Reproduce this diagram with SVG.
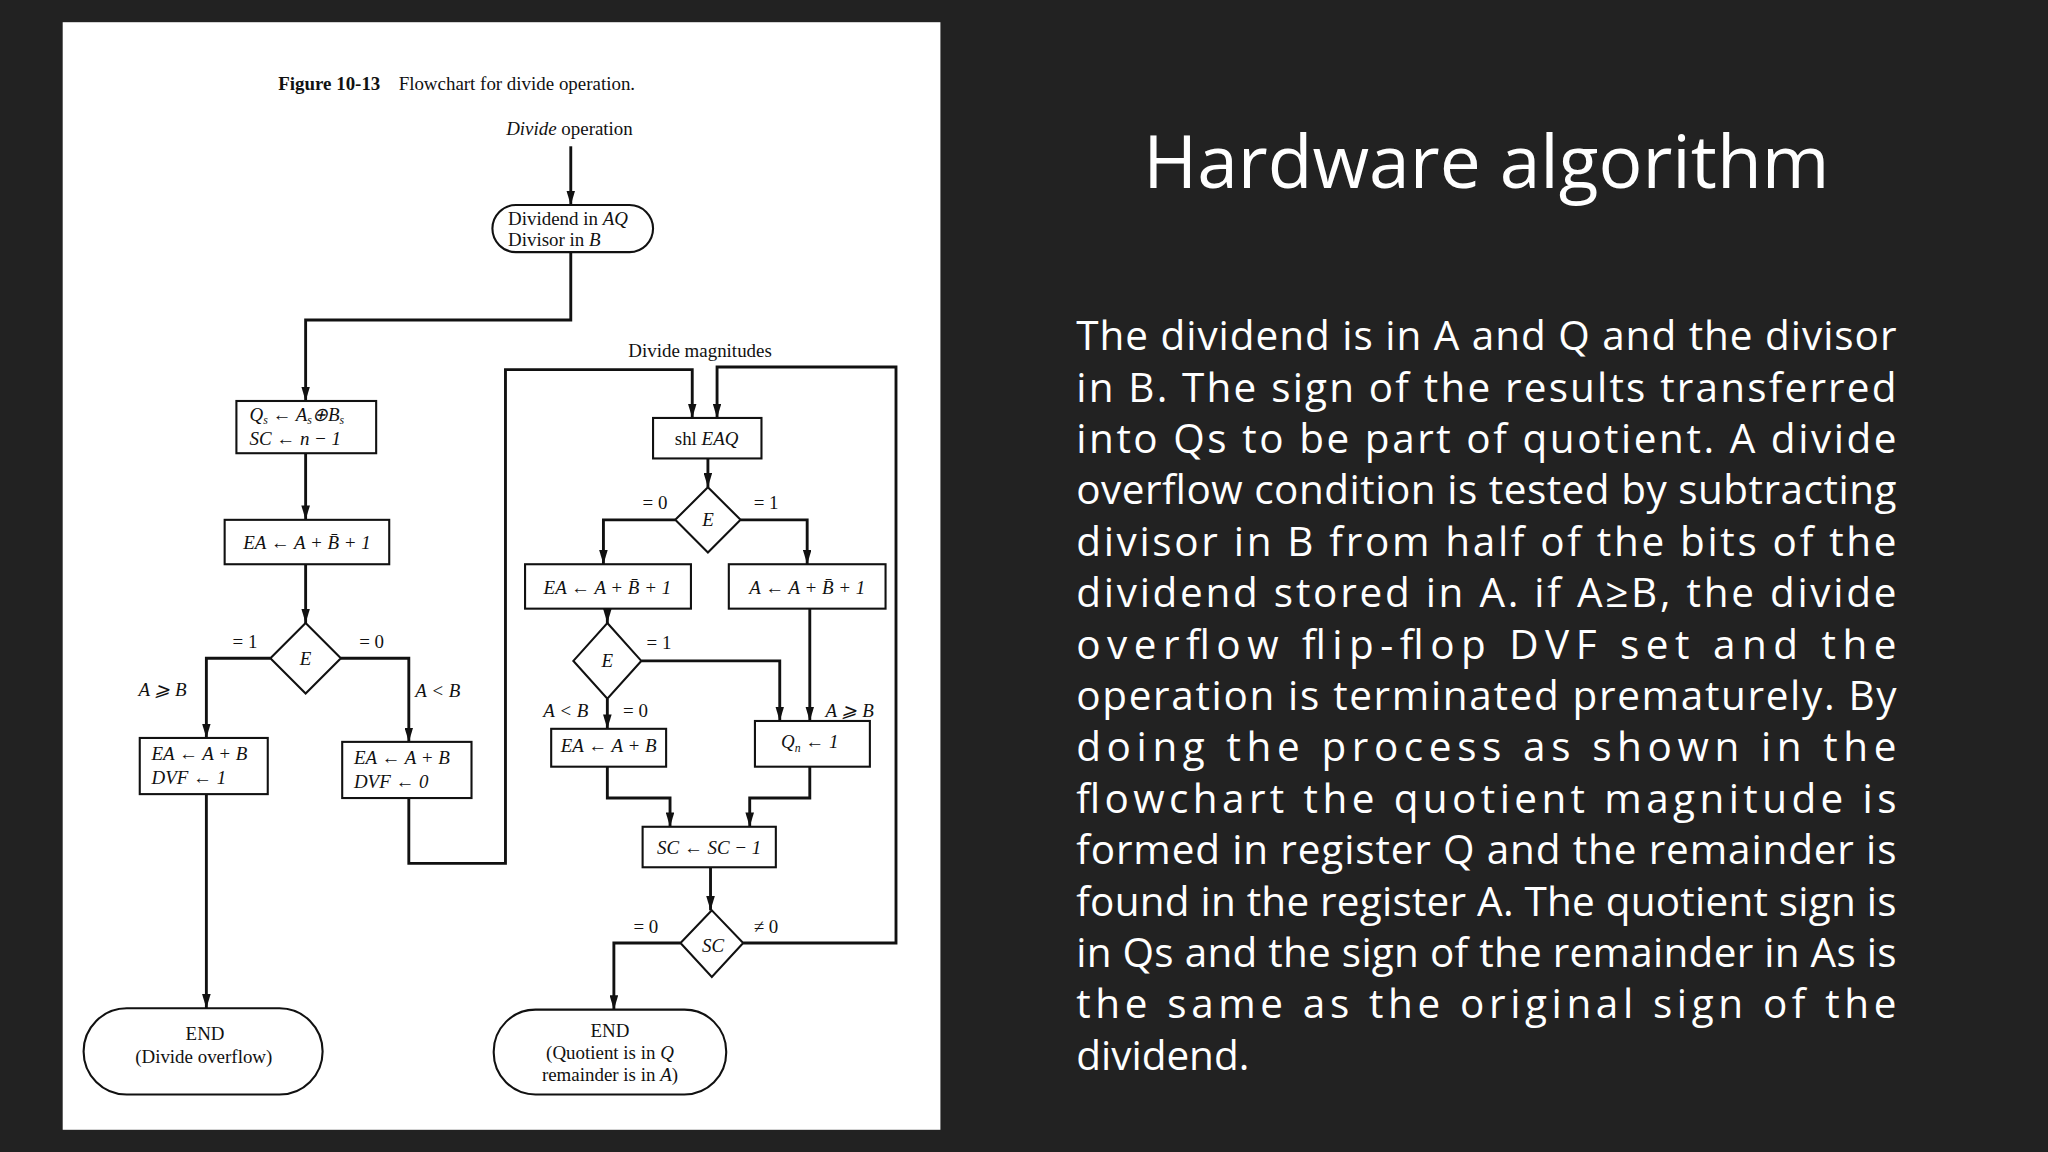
<svg xmlns="http://www.w3.org/2000/svg" width="2048" height="1152" viewBox="0 0 2048 1152">
<style>
.f{font-family:"Liberation Serif",serif;font-size:14.5px;fill:#111}
.i{font-style:italic}
.c{text-anchor:middle}
.b{fill:#fff;stroke:#111;stroke-width:1.6}
.ln{fill:none;stroke:#111;stroke-width:2.2}
.p{font-family:"Open Sans",Roboto,sans-serif;font-size:31px;fill:#fff}
</style>
<defs>
<marker id="a" viewBox="0 0 10 6" refX="10" refY="3" markerWidth="11" markerHeight="6.6" markerUnits="userSpaceOnUse" orient="auto"><path d="M0,0 L10,3 L0,6 z" fill="#111"/></marker>
</defs>
<rect width="2048" height="1152" fill="#222"/>
<g transform="scale(1.30612)">
<rect x="48" y="17" width="672" height="848" fill="#fff"/>
<text class="f" x="213" y="69" font-size="16.5"><tspan font-weight="bold">Figure 10-13</tspan><tspan dx="14">Flowchart for divide operation.</tspan></text>
<text class="f c" x="436" y="103" font-size="15.5"><tspan class="i">Divide</tspan> operation</text>
<g id="connectors" class="ln">
<path d="M437,112 V157" marker-end="url(#a)"/>
<path d="M437,193 V245 H234 V307" marker-end="url(#a)"/>
<path d="M234,347 V398" marker-end="url(#a)"/>
<path d="M234,432 V477" marker-end="url(#a)"/>
<path d="M207,504 H158 V565" marker-end="url(#a)"/>
<path d="M261,504 H313 V568" marker-end="url(#a)"/>
<path d="M158,608 V772" marker-end="url(#a)"/>
<path d="M313,611 V661 H387 V283 H530 V320" marker-end="url(#a)"/>
<path d="M569,722 H686 V281 H549 V320" marker-end="url(#a)"/>
<path d="M542,351 V373" marker-end="url(#a)"/>
<path d="M517,398 H462 V432" marker-end="url(#a)"/>
<path d="M567,398 H618 V432" marker-end="url(#a)"/>
<path d="M465,466 V477" marker-end="url(#a)"/>
<path d="M491,506 H597 V552" marker-end="url(#a)"/>
<path d="M620,466 V552" marker-end="url(#a)"/>
<path d="M465,535 V558" marker-end="url(#a)"/>
<path d="M465,587 V611 H513 V633" marker-end="url(#a)"/>
<path d="M620,587 V611 H574 V633" marker-end="url(#a)"/>
<path d="M544,664 V697" marker-end="url(#a)"/>
<path d="M521,722 H470 V773" marker-end="url(#a)"/>
</g>
<g id="start"><rect class="b" x="377" y="157" width="123" height="36" rx="18"/><text class="f" x="389" y="172">Dividend in <tspan class="i">AQ</tspan></text><text class="f" x="389" y="188">Divisor in <tspan class="i">B</tspan></text></g>
<g id="qs"><rect class="b" x="181" y="307" width="107" height="40"/><text class="f i" x="191" y="322">Q<tspan font-size="9" dy="3">s</tspan><tspan dy="-3"> ← A</tspan><tspan font-size="9" dy="3">s</tspan><tspan dy="-3">⊕B</tspan><tspan font-size="9" dy="3">s</tspan></text><text class="f i" x="191" y="341">SC ← n − 1</text></g>
<g id="sub1"><rect class="b" x="172" y="398" width="126" height="34"/><text class="f i c" x="235" y="420">EA ← A + B̄ + 1</text></g>
<g id="e1"><path class="b" d="M234,477 L261,504 L234,531 L207,504 z"/><text class="f i c" x="234" y="509">E</text></g>
<text class="f" x="178" y="496">= 1</text><text class="f" x="275" y="496">= 0</text>
<text class="f i" x="106" y="533">A ⩾ B</text><text class="f i" x="318" y="534">A &lt; B</text>
<g id="ovf"><rect class="b" x="107" y="565" width="98" height="43"/><text class="f i" x="116" y="582">EA ← A + B</text><text class="f i" x="116" y="600">DVF ← 1</text></g>
<g id="nov"><rect class="b" x="262" y="568" width="99" height="43"/><text class="f i" x="271" y="585">EA ← A + B</text><text class="f i" x="271" y="603">DVF ← 0</text></g>
<g id="end1"><rect class="b" x="64" y="772" width="183" height="66" rx="33"/><text class="f c" x="157" y="796">END</text><text class="f c" x="156" y="814">(Divide overflow)</text></g>
<text class="f c" x="536" y="273">Divide magnitudes</text>
<g id="shl"><rect class="b" x="500" y="320" width="83" height="31"/><text class="f c" x="541" y="341">shl <tspan class="i">EAQ</tspan></text></g>
<g id="e2"><path class="b" d="M542,373 L567,398 L542,423 L517,398 z"/><text class="f i c" x="542" y="403">E</text></g>
<text class="f" x="492" y="390">= 0</text><text class="f" x="577" y="390">= 1</text>
<g id="sub2"><rect class="b" x="402" y="432" width="127" height="34"/><text class="f i c" x="465" y="455">EA ← A + B̄ + 1</text></g>
<g id="sub3"><rect class="b" x="558" y="432" width="120" height="34"/><text class="f i c" x="618" y="455">A ← A + B̄ + 1</text></g>
<g id="e3"><path class="b" d="M465,477 L491,506 L465,535 L439,506 z"/><text class="f i c" x="465" y="511">E</text></g>
<text class="f" x="495" y="497">= 1</text>
<text class="f i" x="416" y="549">A &lt; B</text><text class="f" x="477" y="549">= 0</text><text class="f i" x="632" y="549">A ⩾ B</text>
<g id="rest"><rect class="b" x="422" y="558" width="88" height="29"/><text class="f i c" x="466" y="576">EA ← A + B</text></g>
<g id="qn"><rect class="b" x="578" y="552" width="88" height="35"/><text class="f i c" x="620" y="573">Q<tspan font-size="9" dy="3">n</tspan><tspan dy="-3"> ← 1</tspan></text></g>
<g id="dec"><rect class="b" x="492" y="633" width="102" height="31"/><text class="f i c" x="543" y="654">SC ← SC − 1</text></g>
<g id="sc"><path class="b" d="M545,697 L569,722 L545,748 L521,722 z"/><text class="f i c" x="546" y="729">SC</text></g>
<text class="f" x="485" y="714">= 0</text><text class="f" x="577" y="714">≠ 0</text>
<g id="end2"><rect class="b" x="378" y="773" width="178" height="65" rx="32"/><text class="f c" x="467" y="794">END</text><text class="f c" x="467" y="811">(Quotient is in <tspan class="i">Q</tspan></text><text class="f c" x="467" y="828">remainder is in <tspan class="i">A</tspan>)</text></g>
<text x="1138" y="144" text-anchor="middle" font-family="'Open Sans',Roboto,sans-serif" font-size="56" fill="#fff">Hardware algorithm</text>
<g class="p" id="para">
<text x="824" y="268" textLength="628" lengthAdjust="spacing">The dividend is in A and Q and the divisor</text>
<text x="824" y="307.4" textLength="628" lengthAdjust="spacing">in B. The sign of the results transferred</text>
<text x="824" y="346.7" textLength="628" lengthAdjust="spacing">into Qs to be part of quotient. A divide</text>
<text x="824" y="386.1" textLength="628" lengthAdjust="spacing">overflow condition is tested by subtracting</text>
<text x="824" y="425.4" textLength="628" lengthAdjust="spacing">divisor in B from half of the bits of the</text>
<text x="824" y="464.8" textLength="628" lengthAdjust="spacing">dividend stored in A. if A≥B, the divide</text>
<text x="824" y="504.2" textLength="628" lengthAdjust="spacing">overflow flip-flop DVF set and the</text>
<text x="824" y="543.5" textLength="628" lengthAdjust="spacing">operation is terminated prematurely. By</text>
<text x="824" y="582.9" textLength="628" lengthAdjust="spacing">doing the process as shown in the</text>
<text x="824" y="622.2" textLength="628" lengthAdjust="spacing">flowchart the quotient magnitude is</text>
<text x="824" y="661.6" textLength="628" lengthAdjust="spacing">formed in register Q and the remainder is</text>
<text x="824" y="701" textLength="628" lengthAdjust="spacing">found in the register A. The quotient sign is</text>
<text x="824" y="740.3" textLength="628" lengthAdjust="spacing">in Qs and the sign of the remainder in As is</text>
<text x="824" y="779.7" textLength="628" lengthAdjust="spacing">the same as the original sign of the</text>
<text x="824" y="819">dividend.</text>
</g>
</g>
</svg>
